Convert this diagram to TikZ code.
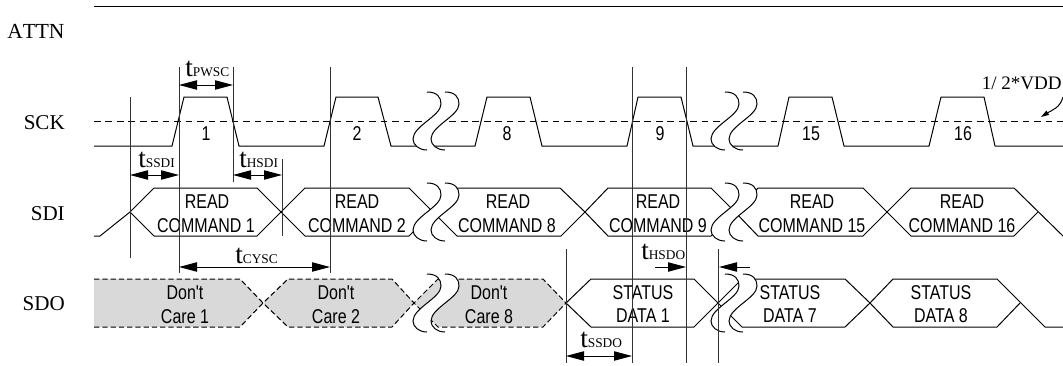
\documentclass[tikz,border=0pt]{standalone}
\usepackage{fontspec}
\setmainfont{Liberation Serif}
\newfontfamily\narrowsans[FakeStretch=0.8]{Liberation Sans}
\usetikzlibrary{arrows.meta}
\definecolor{dontcare}{HTML}{D9D9D9}
\definecolor{markline}{HTML}{333333}
\tikzset{
  x=0.75pt,y=-0.75pt,
  wave/.style={line width=0.75pt,line join=miter,black},
  grayhex/.style={fill=dontcare,draw=none},
  dashwave/.style={line width=0.75pt,dash pattern=on 4pt off 2.2pt},
  midline/.style={line width=0.75pt,dash pattern=on 5pt off 3.6pt},
  marker/.style={line width=0.75pt,markline},
  dimboth/.style={line width=0.75pt,{Triangle[length=13.5pt,width=7pt]}-{Triangle[length=13.5pt,width=7pt]}},
  dimright/.style={line width=0.75pt,-{Triangle[length=13.5pt,width=7pt]}},
  rowlabel/.style={inner sep=0pt,anchor=base east,font=\fontsize{15.8pt}{18pt}\selectfont},
  sanslabel/.style={inner sep=0pt,anchor=base,font=\narrowsans\fontsize{15pt}{17pt}\selectfont},
  timelabel/.style={inner sep=0pt,anchor=base west,font=\fontsize{20.5pt}{21pt}\selectfont},
  brk/.pic={
    \fill[white] (0,0) .. controls (10,0) and (14,5) .. (14,12) .. controls (14,24) and (-14,34) .. (-14,47) .. controls (-14,53) and (-8,58) .. (0,58) -- (18,58) .. controls (10,58) and (4,53) .. (4,47) .. controls (4,34) and (32,24) .. (32,12) .. controls (32,5) and (28,0) .. (18,0) -- cycle;
    \draw[line width=0.75pt] (0,0) .. controls (10,0) and (14,5) .. (14,12) .. controls (14,24) and (-14,34) .. (-14,47) .. controls (-14,53) and (-8,58) .. (0,58);
    \draw[line width=0.75pt] (18,0) .. controls (28,0) and (32,5) .. (32,12) .. controls (32,24) and (4,34) .. (4,47) .. controls (4,53) and (10,58) .. (18,58);
  }
}
\newcommand{\subcaps}[1]{{\fontsize{10pt}{10pt}\selectfont #1}}
\begin{document}
\begin{tikzpicture}
\useasboundingbox (0,0) rectangle (1063,365);
% marker end points
\coordinate (m130t) at (130,97);   \coordinate (m130b) at (130,258);
\coordinate (m179t) at (179,67);   \coordinate (m179b) at (179,273);
\coordinate (m233t) at (233,67);   \coordinate (m233b) at (233,182);
\coordinate (m282t) at (282,159);  \coordinate (m282b) at (282,236);
\coordinate (m330t) at (330,67);   \coordinate (m330b) at (330,273);
\coordinate (m566t) at (566,249);  \coordinate (m566b) at (566,363);
\coordinate (m632t) at (632,67);   \coordinate (m632b) at (632,363);
\coordinate (m686t) at (686.5,67); \coordinate (m686b) at (686.5,363);
\coordinate (m718t) at (718,249);  \coordinate (m718b) at (718,363);

% ATTN
\draw[wave] (94,6) -- (1063,6);

% SCK
\draw[midline] (94,121) -- (1063,121);
\draw[wave] (94,146) -- (172,146) -- (184,97) -- (227,97) -- (239,146) -- (324,146) -- (336,97) -- (378,97) -- (391,146) -- (475,146) -- (487,97) -- (530,97) -- (542,146) -- (627,146) -- (638,97) -- (681,97) -- (693,146) -- (778,146) -- (789,97) -- (832,97) -- (844,146) -- (929,146) -- (941,97) -- (984,97) -- (995,146) -- (1063,146);
\pic at (427,92) {brk};
\pic at (725,92) {brk};

% SDI
\draw[wave] (94,236) -- (100,236) -- (130,212) -- (154,188) -- (257,188) -- (281,212) -- (305,188) -- (409,188) -- (433,212) -- (457,188) -- (560,188) -- (585,212) -- (608,188) -- (711,188) -- (735,212) -- (758,188) -- (863,188) -- (887,212) -- (911,188) -- (1014,188) -- (1063,236);
\draw[wave] (130,212) -- (154,236) -- (257,236) -- (281,212) -- (305,236) -- (409,236) -- (433,212) -- (457,236) -- (561,236) -- (585,212) -- (608,236) -- (711,236) -- (735,212) -- (758,236) -- (863,236) -- (887,212) -- (911,236) -- (1014,236) -- (1038,212);
\pic at (427,183) {brk};
\pic at (725,183) {brk};

% SDO
\fill[grayhex] (94,279) -- (240,279) -- (263,303) -- (240,327) -- (94,327) -- cycle;
\fill[grayhex] (263,303) -- (288,279) -- (392,279) -- (414,303) -- (392,327) -- (288,327) -- cycle;
\fill[grayhex] (414,303) -- (438,279) -- (543,279) -- (566,303) -- (543,327) -- (438,327) -- cycle;
\draw[dashwave] (94,279) -- (240,279) -- (263,303) -- (288,327) -- (392,327) -- (414,303) -- (438,279) -- (543,279) -- (566,303);
\draw[dashwave] (94,327) -- (240,327) -- (263,303) -- (288,279) -- (392,279) -- (414,303) -- (438,327) -- (543,327) -- (566,303);
\draw[wave] (566,303) -- (591,279) -- (694,279) -- (718,303) -- (742,279) -- (845,279) -- (870,303) -- (893,279) -- (997,279) -- (1045,327) -- (1063,327);
\draw[wave] (566,303) -- (591,327) -- (694,327) -- (718,303) -- (742,327) -- (845,327) -- (870,303) -- (893,327) -- (997,327) -- (1020,303);
\pic at (427,274) {brk};
\pic at (725,274) {brk};

% row labels
\node[rowlabel,anchor=base west,font=\addfontfeature{Kerning=Off}\fontsize{16.1pt}{18pt}\selectfont] (attn) at (7,38) {ATTN};
\node[rowlabel] (sck) at (65,129) {SCK};
\node[rowlabel] (sdi) at (65,220) {SDI};
\node[rowlabel] (sdo) at (65,310) {SDO};

% clock numbers
\node[sanslabel] (n1) at (206,140) {1};
\node[sanslabel] (n2) at (357,140) {2};
\node[sanslabel] (n8) at (507,140) {8};
\node[sanslabel] (n9) at (660,140) {9};
\node[sanslabel] (n15) at (811,140) {15};
\node[sanslabel] (n16) at (963,140) {16};

% SDI text
\node[sanslabel] (r1) at (207,208) {READ};   \node[sanslabel] (c1) at (206,232) {COMMAND 1};
\node[sanslabel] (r2) at (357,208) {READ};   \node[sanslabel] (c2) at (357,232) {COMMAND 2};
\node[sanslabel] (r8) at (508,208) {READ};   \node[sanslabel] (c8) at (507,232) {COMMAND 8};
\node[sanslabel] (r9) at (658,208) {READ};   \node[sanslabel] (c9) at (658,232) {COMMAND 9};
\node[sanslabel] (r15) at (812,208) {READ};  \node[sanslabel] (c15) at (812,232) {COMMAND 15};
\node[sanslabel] (r16) at (962,208) {READ};  \node[sanslabel] (c16) at (962,232) {COMMAND 16};

% SDO text
\node[sanslabel] (d1) at (185,299) {Don't};  \node[sanslabel] (e1) at (185,323) {Care 1};
\node[sanslabel] (d2) at (336,299) {Don't};  \node[sanslabel] (e2) at (336,323) {Care 2};
\node[sanslabel] (d8) at (489,299) {Don't};  \node[sanslabel] (e8) at (489,323) {Care 8};
\node[sanslabel] (s1) at (643,299) {STATUS}; \node[sanslabel] (t1) at (643,322) {DATA 1};
\node[sanslabel] (s7) at (790,299) {STATUS}; \node[sanslabel] (t7) at (790,322) {DATA 7};
\node[sanslabel] (s8) at (941,299) {STATUS}; \node[sanslabel] (t8) at (941,322) {DATA 8};

% markers
\draw[marker] (m130t) -- (m130b);
\draw[marker] (m179t) -- (m179b);
\draw[marker] (m233t) -- (m233b);
\draw[marker] (m282t) -- (m282b);
\draw[marker] (m330t) -- (m330b);
\draw[marker] (m566t) -- (m566b);
\draw[marker] (m632t) -- (m632b);
\draw[marker] (m686t) -- (m686b);
\draw[marker] (m718t) -- (m718b);

% timing arrows
\draw[dimboth] (179,85) coordinate (pa) -- (233,85) coordinate (pb);
\draw[dimboth] (130,175) coordinate (sa) -- (179,175) coordinate (sb);
\draw[dimboth] (233,175) coordinate (ha) -- (282,175) coordinate (hb);
\draw[dimboth] (179,267) coordinate (ca) -- (330,267) coordinate (cb);
\draw[dimboth] (566,356) coordinate (oa) -- (632,356) coordinate (ob);
\coordinate (hoa) at (655,267); \coordinate (hob) at (686,267);
\coordinate (hla) at (750,267); \coordinate (hlb) at (719,267);
\draw[dimright] (hoa) -- (hob);
\draw[dimright] (hla) -- (hlb);

% timing labels
\node[timelabel] (tpwsc) at (185,76) {t\subcaps{PWSC}};
\node[timelabel] (tssdi) at (138,167) {t\subcaps{SSDI}};
\node[timelabel] (thsdi) at (239,167) {t\subcaps{HSDI}};
\node[timelabel] (tcysc) at (235,263) {t\subcaps{CYSC}};
\node[timelabel] (thsdo) at (641,259) {t\subcaps{HSDO}};
\node[timelabel] (tssdo) at (580,347) {t\subcaps{SSDO}};

% VDD label
\node[inner sep=0pt,anchor=base east,font=\fontsize{14.3pt}{16pt}\selectfont] (vdd) at (1062,89) {1/ 2*VDD};
\coordinate (vddstart) at (1063,97);
\coordinate (vddend) at (1041,117);
\draw[line width=0.75pt,-{Triangle[length=6pt,width=3.6pt]}] (vddstart) .. controls (1060,108) and (1052,110) .. (vddend);
\end{tikzpicture}
\end{document}
